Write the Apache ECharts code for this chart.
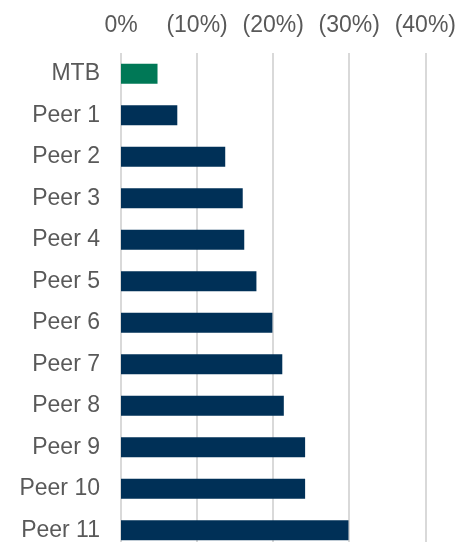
<!DOCTYPE html>
<html>
<head>
<meta charset="utf-8">
<script src="https://cdn.jsdelivr.net/npm/echarts@6/dist/echarts.min.js"></script>
<style>
  html, body { margin: 0; padding: 0; background: #fff; overflow: hidden; }
  /* the last row runs past the bottom edge, as in the original */
  #chart { width: 459px; height: 551px; }
</style>
</head>
<body>
<div id="chart"></div>
<script>
// change in % (negative = decline)
const categories = ['MTB', 'Peer 1', 'Peer 2', 'Peer 3', 'Peer 4', 'Peer 5', 'Peer 6',
  'Peer 7', 'Peer 8', 'Peer 9', 'Peer 10', 'Peer 11'];
const values = [-4.8, -7.4, -13.7, -16.0, -16.2, -17.8, -19.9, -21.2, -21.4, -24.2, -24.2, -29.9];
const highlight = 'MTB';

const chart = echarts.init(document.getElementById('chart'));

chart.setOption({
  animation: false,
  grid: { left: 121, right: 33, top: 53, bottom: 0, containLabel: false },
  xAxis: {
    type: 'value',
    position: 'top',
    inverse: true,
    min: -40,
    max: 0,
    interval: 10,
    axisLine: { show: false },
    axisTick: { show: false },
    splitLine: { lineStyle: { color: '#d9d9d9', width: 2 } },
    axisLabel: {
      color: '#595959',
      fontFamily: 'Liberation Sans, Arial, sans-serif',
      fontSize: 23,
      margin: 16,
      formatter: v => v === 0 ? '0%' : '(' + Math.abs(v) + '%)'
    }
  },
  yAxis: {
    type: 'category',
    inverse: true,
    data: categories,
    axisLine: { show: false },
    axisTick: { show: false },
    axisLabel: {
      color: '#595959',
      fontFamily: 'Liberation Sans, Arial, sans-serif',
      fontSize: 23,
      margin: 21
    }
  },
  series: [{
    type: 'bar',
    barWidth: 20,
    data: values.map((v, i) => ({
      value: v,
      itemStyle: { color: categories[i] === highlight ? '#007856' : '#003057' }
    }))
  }]
});
</script>
</body>
</html>
